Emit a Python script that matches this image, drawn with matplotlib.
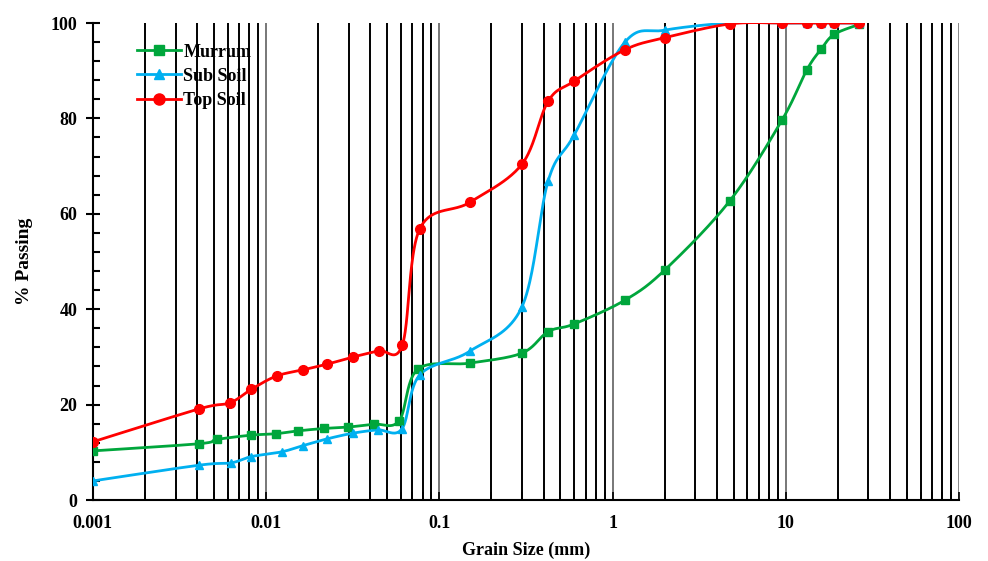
import numpy as np
import matplotlib.pyplot as plt
from matplotlib.ticker import LogLocator, MultipleLocator, FixedFormatter, FixedLocator, NullFormatter

plt.rcParams['font.family'] = ['Liberation Serif', 'DejaVu Serif']
plt.rcParams['font.weight'] = 'bold'

# Grain size (mm) and % passing
murrum_size = [0.001, 0.0041, 0.0052, 0.0082, 0.0114, 0.0153, 0.0216, 0.0298, 0.0419, 0.0586,
               0.075, 0.15, 0.3, 0.425, 0.6, 1.18, 2.0, 4.75, 9.5, 13.2, 16, 19, 26.5]
murrum_pass = [10.3, 11.8, 12.7, 13.6, 13.9, 14.5, 15.0, 15.3, 15.9, 16.6,
               27.4, 28.7, 30.8, 35.3, 36.9, 41.9, 48.2, 62.7, 79.6, 90.1, 94.5, 97.6, 99.7]

subsoil_size = [0.001, 0.0041, 0.0063, 0.0082, 0.0123, 0.0163, 0.0224, 0.0316, 0.044, 0.0608,
                0.077, 0.15, 0.3, 0.425, 0.6, 1.18, 2.0, 4.75, 9.5, 13.2, 16, 19, 26.5]
subsoil_pass = [4.0, 7.3, 7.8, 9.1, 10.1, 11.4, 12.8, 14.0, 14.7, 14.9,
                26.2, 31.2, 40.5, 66.9, 76.5, 96.0, 98.5, 100, 100, 100, 100, 100, 100]

topsoil_size = [0.001, 0.0041, 0.0062, 0.0082, 0.0115, 0.0164, 0.0226, 0.0319, 0.0447, 0.0613,
                0.077, 0.15, 0.3, 0.425, 0.6, 1.18, 2.0, 4.75, 9.5, 13.2, 16, 19, 26.5]
topsoil_pass = [12.2, 19.1, 20.4, 23.2, 26.0, 27.3, 28.5, 30.0, 31.3, 32.6,
                56.8, 62.4, 70.4, 83.6, 87.8, 94.4, 96.9, 99.8, 100, 100, 100, 100, 100]

x_ticks = [0.001, 0.01, 0.1, 1, 10, 100]
x_tick_labels = ['0.001', '0.01', '0.1', '1', '10', '100']


def smooth(x, y, n=40):
    # Excel-like smoothed line: Catmull-Rom spline in (log x, y) space
    u = np.log10(np.asarray(x, float))
    v = np.asarray(y, float)
    pu = np.r_[u[0], u, u[-1]]
    pv = np.r_[v[0], v, v[-1]]
    t = np.linspace(0, 1, n)[:, None]
    out_u, out_v = [], []
    for i in range(len(u) - 1):
        P = np.array([[pu[i + k], pv[i + k]] for k in range(4)])
        c = 0.5 * (2 * P[1] + (-P[0] + P[2]) * t + (2 * P[0] - 5 * P[1] + 4 * P[2] - P[3]) * t ** 2
                   + (-P[0] + 3 * P[1] - 3 * P[2] + P[3]) * t ** 3)
        out_u.append(c[:, 0])
        out_v.append(c[:, 1])
    return 10 ** np.concatenate(out_u), np.concatenate(out_v)


fig = plt.figure(figsize=(9.88, 5.61), dpi=100)
ax = fig.add_axes([0.094, 0.1087, 0.8766, 0.8503])
ax.set_xscale('log')
ax.set_xlim(0.001, 100)
ax.set_ylim(0, 100)

# vertical grid lines at every decade subdivision
for dec in [0.001, 0.01, 0.1, 1, 10]:
    for m in range(2, 10):
        ax.axvline(dec * m, color='black', lw=1.4, zorder=1)
    if dec > 0.001:
        ax.axvline(dec, color='#777777', lw=1.4, zorder=1)
ax.axvline(100, color='#888888', lw=1.4, zorder=1)

series = [
    (murrum_size, murrum_pass, '#00a63c', 's', 6, 'Murrum'),
    (subsoil_size, subsoil_pass, '#00b0f0', '^', 6, 'Sub Soil'),
    (topsoil_size, topsoil_pass, '#ff0000', 'o', 7, 'Top Soil'),
]
for xs, ys, col, mk, ms, lab in series:
    sx, sy = smooth(xs, ys)
    ax.plot(sx, sy, color=col, lw=2, zorder=3)
    ax.plot(xs, ys, color=col, lw=0, marker=mk, ms=ms, zorder=4)
    ax.plot([], [], color=col, lw=2, marker=mk, ms=ms + 1, label=lab)

ax.xaxis.set_major_locator(FixedLocator(x_ticks))
ax.xaxis.set_major_formatter(FixedFormatter(x_tick_labels))
ax.xaxis.set_minor_locator(LogLocator(base=10, subs=np.arange(2, 10)))
ax.xaxis.set_minor_formatter(NullFormatter())
ax.yaxis.set_major_locator(MultipleLocator(20))
ax.yaxis.set_minor_locator(MultipleLocator(4))

ax.tick_params(axis='x', which='both', direction='in', length=6, width=1.2, labelsize=13, pad=11)
ax.tick_params(axis='y', which='major', direction='inout', length=10, width=1.5, labelsize=13, pad=6)
ax.tick_params(axis='y', which='minor', direction='in', length=5, width=1.5)
for lab in ax.get_xticklabels() + ax.get_yticklabels():
    lab.set_fontweight('bold')

ax.spines['top'].set_visible(False)
ax.spines['right'].set_visible(False)
ax.spines['left'].set_linewidth(1.5)
ax.spines['bottom'].set_linewidth(1.5)

ax.set_xlabel('Grain Size (mm)', fontsize=13, fontweight='bold', labelpad=7)
ax.set_ylabel('% Passing', fontsize=14, fontweight='bold', labelpad=13)

leg = ax.legend(loc='upper left', bbox_to_anchor=(0.043, 0.972), frameon=False, fontsize=13,
                handlelength=2.4, handletextpad=0.15, labelspacing=0.4, borderaxespad=0)
for t in leg.get_texts():
    t.set_fontweight('bold')

fig.savefig('out.png', dpi=100)
